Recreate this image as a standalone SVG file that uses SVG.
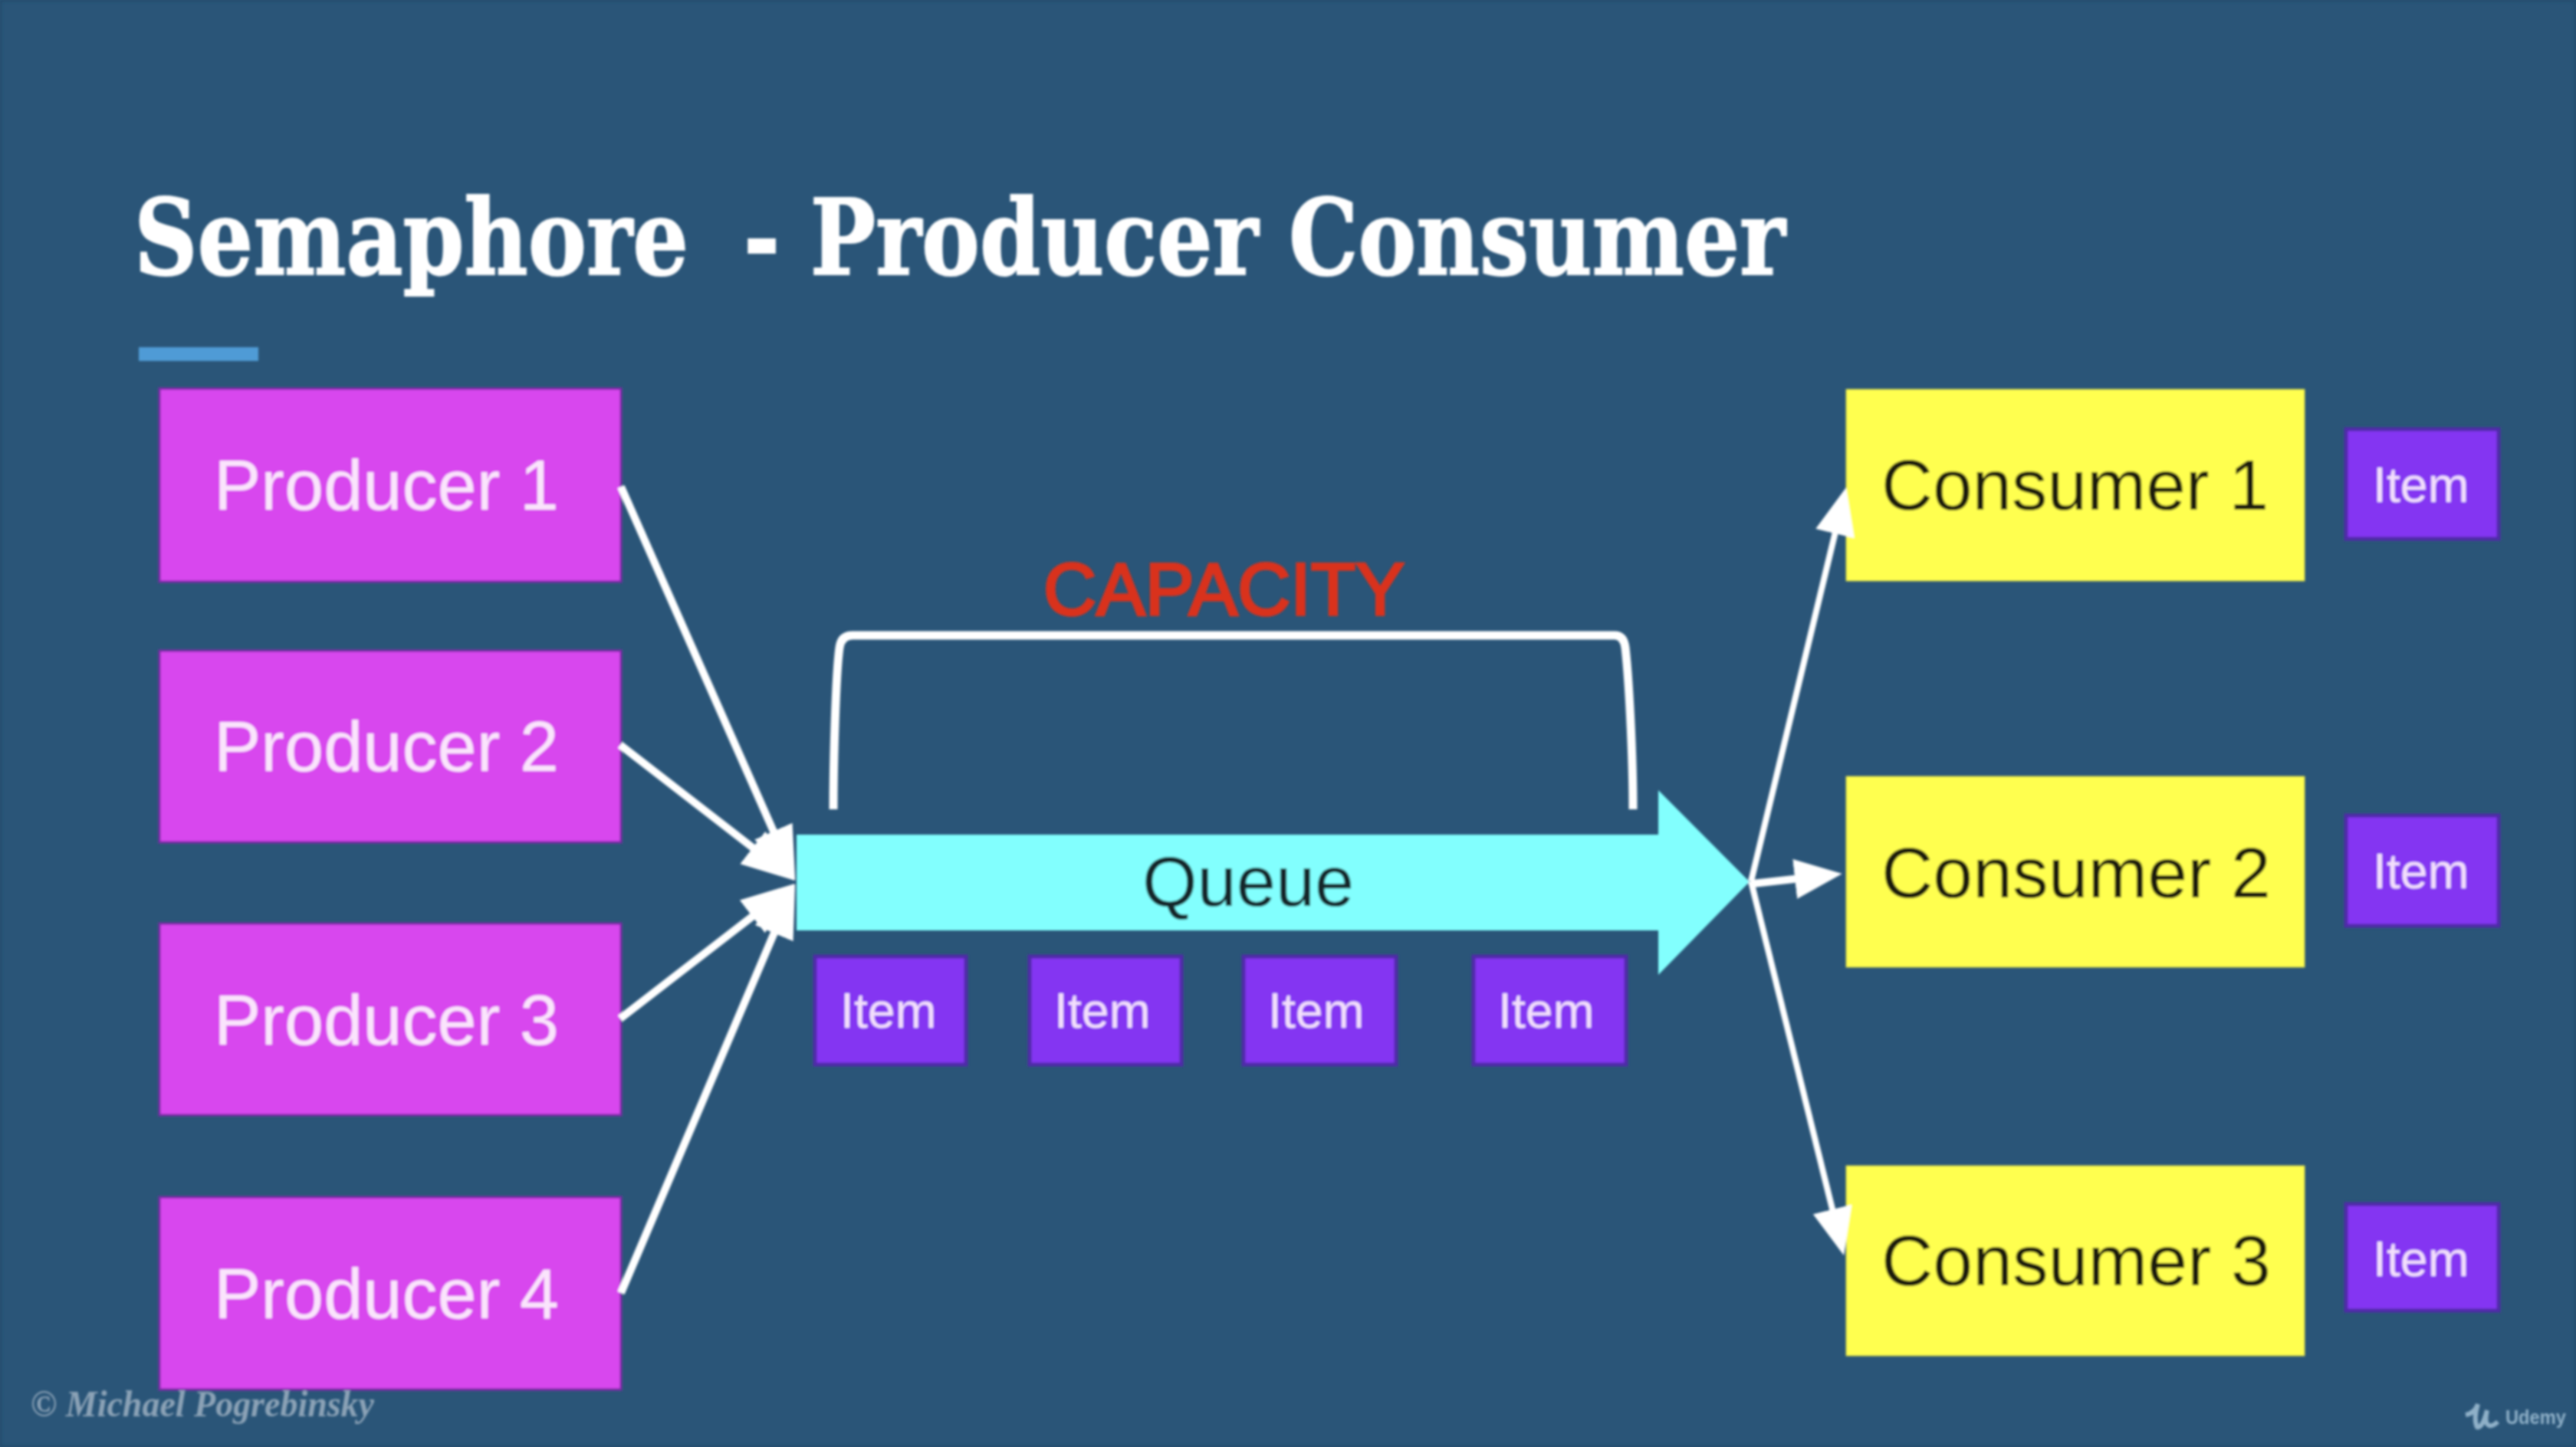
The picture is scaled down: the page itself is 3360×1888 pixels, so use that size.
<svg xmlns="http://www.w3.org/2000/svg" width="3360" height="1888" viewBox="0 0 3360 1888">
<defs>
<style>
.t{font-family:"Liberation Sans",Arial,sans-serif;font-size:92px}
.producer rect{fill:#d847ee;stroke:#7b2ca6;stroke-width:3}
.producer text{fill:#fae4fc}
.consumer rect{fill:#ffff4f;stroke:#c9c94a;stroke-width:1}
.consumer text{fill:#1b1b0e}
.item rect{fill:#8434f2;stroke:#4f2ca8;stroke-width:5}
.item text{fill:#f3dffc;font-family:"Liberation Sans",Arial,sans-serif;font-size:64.500px}
.wire{stroke:#fff;fill:none;stroke-width:10;marker-end:url(#head)}
.wire.out{marker-end:url(#head-out)}
.wire.thin{stroke-width:8}
</style>
<marker id="head" markerUnits="userSpaceOnUse" markerWidth="72" markerHeight="56" viewBox="0 0 72 56" refX="30" refY="28" orient="auto"><path d="M0 1L70 28L0 55Z" fill="#fff"/></marker>
<marker id="head-out" markerUnits="userSpaceOnUse" markerWidth="64" markerHeight="54" viewBox="0 0 64 54" refX="30" refY="27" orient="auto"><path d="M0 1L62 27L0 53Z" fill="#fff"/></marker>
<filter id="soft" x="-2%" y="-2%" width="104%" height="104%"><feGaussianBlur stdDeviation="1.4"/></filter>
</defs>
<rect id="background" width="3360" height="1888" fill="#2a5578"/>
<g filter="url(#soft)">
<rect x="1" y="1" width="3358" height="1886" fill="none" stroke="#234c6d" stroke-width="3"/>
<g id="title">
<text y="358" xml:space="preserve" style="white-space:pre" font-family="'DejaVu Serif','Liberation Serif',serif" font-weight="700" font-size="137" fill="#fff" stroke="#fff" stroke-width="2"><tspan x="175" textLength="723" lengthAdjust="spacingAndGlyphs">Semaphore</tspan><tspan>  </tspan><tspan x="970" textLength="1359" lengthAdjust="spacingAndGlyphs">- Producer Consumer</tspan></text>
<rect x="181" y="453" width="156" height="18" fill="#4f9bd6"/>
</g>
<g id="queue">
<path d="M1039 1089H2163V1031L2282 1150.500L2163 1272V1214H1039Z" fill="#82fffe"/>
<text class="t" x="1490" y="1182" fill="#12262c">Queue</text>
</g>
<g id="capacity">
<text x="1361" y="802" font-family="'Liberation Sans',Arial,sans-serif" font-size="96" fill="#d9301c" stroke="#d9301c" stroke-width="3.500" textLength="471" lengthAdjust="spacingAndGlyphs">CAPACITY</text>
<path d="M1087 1056C1087 1000 1090 880 1095 845Q1097 829 1112 829H2106Q2118 829 2120 845C2126 900 2130 1000 2130 1056" fill="none" stroke="#fff" stroke-width="11"/>
</g>
<g id="producer-1" class="producer"><rect x="208" y="507" width="602" height="252"/><text class="t" x="279" y="665">Producer 1</text></g>
<g id="producer-2" class="producer"><rect x="208" y="849" width="602" height="250"/><text class="t" x="279" y="1006">Producer 2</text></g>
<g id="producer-3" class="producer"><rect x="208" y="1205" width="602" height="250"/><text class="t" x="279" y="1363">Producer 3</text></g>
<g id="producer-4" class="producer"><rect x="208" y="1562" width="602" height="251"/><text class="t" x="279" y="1720">Producer 4</text></g>
<g id="consumer-1" class="consumer"><rect x="2408" y="508" width="598" height="250"/><text class="t" x="2454" y="665" textLength="505" lengthAdjust="spacingAndGlyphs">Consumer 1</text></g>
<g id="consumer-2" class="consumer"><rect x="2408" y="1013" width="598" height="249"/><text class="t" x="2454" y="1171" textLength="508" lengthAdjust="spacingAndGlyphs">Consumer 2</text></g>
<g id="consumer-3" class="consumer"><rect x="2408" y="1521" width="598" height="248"/><text class="t" x="2454" y="1677" textLength="508" lengthAdjust="spacingAndGlyphs">Consumer 3</text></g>
<g id="item-q1" class="item"><rect x="1063" y="1248" width="197" height="141"/><text x="1096" y="1341">Item</text></g>
<g id="item-q2" class="item"><rect x="1343" y="1248" width="198" height="141"/><text x="1375" y="1341">Item</text></g>
<g id="item-q3" class="item"><rect x="1622" y="1248" width="199" height="141"/><text x="1654" y="1341">Item</text></g>
<g id="item-q4" class="item"><rect x="1922" y="1248" width="199" height="141"/><text x="1954" y="1341">Item</text></g>
<g id="item-c1" class="item"><rect x="3060" y="560" width="199" height="143"/><text x="3095" y="655">Item</text></g>
<g id="item-c2" class="item"><rect x="3060" y="1064" width="199" height="144"/><text x="3095" y="1159">Item</text></g>
<g id="item-c3" class="item"><rect x="3060" y="1571" width="199" height="139"/><text x="3095" y="1665">Item</text></g>
<g id="connectors">
<line class="wire" x1="810" y1="635" x2="1021" y2="1112"/>
<line class="wire" x1="809" y1="972" x2="1005.500" y2="1124.400"/>
<line class="wire" x1="809" y1="1329" x2="1005" y2="1177.500"/>
<line class="wire" x1="810" y1="1687" x2="1021.400" y2="1190"/>
<line class="wire thin out" x1="2284" y1="1150" x2="2400.500" y2="667"/>
<line class="wire out" x1="2286" y1="1153" x2="2371" y2="1143.500"/>
<line class="wire thin out" x1="2284" y1="1150" x2="2397.300" y2="1607"/>
</g>
<g id="watermarks">
<text x="40" y="1848" font-family="'Liberation Serif','Times New Roman',serif" font-style="italic" font-weight="700" font-size="48" fill="#8ba2b6" textLength="448" lengthAdjust="spacingAndGlyphs">© Michael Pogrebinsky</text>
<path d="M3216 1846Q3228 1844 3232 1832Q3226 1852 3231 1862Q3238 1864 3244 1840Q3240 1858 3247 1860Q3252 1861 3258 1855" fill="none" stroke="#8fb0c8" stroke-width="6"/>
<text x="3268" y="1858" font-family="'Liberation Sans',Arial,sans-serif" font-weight="700" font-size="25" fill="#8fb0c8" textLength="79" lengthAdjust="spacingAndGlyphs">Udemy</text>
</g>
</g>
</svg>
